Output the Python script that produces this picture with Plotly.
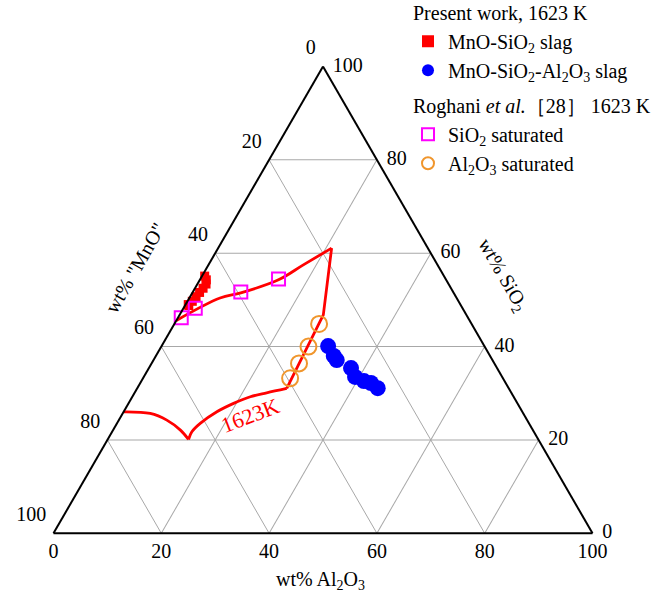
import plotly.graph_objects as go

# ---------------- data (wt%) ----------------
# Present work, MnO-SiO2 slag
red_sio2 = [55.1, 54.3, 53.4, 52.5, 51.6, 50.7, 49.7, 48.8, 49.0]
red_al2o3 = [0.5, 1.2, 1.6, 1.5, 1.3, 1.1, 0.9, 0.7, 0.5]
# Present work, MnO-SiO2-Al2O3 slag
blue_sio2 = [40.1, 38.0, 37.1, 35.4, 33.5, 32.6, 32.2, 31.1]
blue_al2o3 = [30.9, 33.0, 34.0, 37.5, 39.2, 41.3, 42.8, 44.6]
# Roghani et al., SiO2 saturated
mag_sio2 = [46.2, 48.2, 51.7, 54.5]
mag_al2o3 = [0.6, 2.2, 8.9, 14.5]
# Roghani et al., Al2O3 saturated
org_sio2 = [44.85, 40.0, 36.4, 33.2]
org_al2o3 = [26.85, 27.3, 27.35, 27.3]
# 1623 K liquidus pieces
liq_upper_sio2 = [45.6, 50.4, 51.5, 54.3, 57.5, 61.1]
liq_upper_al2o3 = [0.0, 5.7, 9.0, 14.6, 17.6, 21.05]
liq_mid_sio2 = [61.1, 46.8, 31.05]
liq_mid_al2o3 = [21.05, 26.66, 27.75]
liq_rarc_sio2 = [31.05, 30.1, 29.25, 27.83, 26.03, 23.54, 21.74, 20.1]
liq_rarc_al2o3 = [27.75, 24.5, 21.9, 19.5, 17.3, 15.45, 14.8, 15.0]
liq_larc_sio2 = [20.1, 22.1, 24.25, 25.69, 26.03]
liq_larc_al2o3 = [15.0, 12.5, 8.9, 5.1, 0.0]

TICKS = [0, 20, 40, 60, 80, 100]

# ---------------- geometry ----------------
W, H = 654, 601
X0, X1 = 53.5, 592.5           # triangle base in px
SIDE = X1 - X0
TRI_H = SIDE * 3 ** 0.5 / 2
YB = 533.3                      # base y (px from top)


def mno(s, a):
    return [100.0 - x - y for x, y in zip(s, a)]


SERIF = "Liberation Serif"
FS = 20

fig = go.Figure()

line_style = dict(color="#ff0000", width=2.8)
for s, a, shp in [(liq_upper_sio2, liq_upper_al2o3, "spline"),
                  (liq_mid_sio2, liq_mid_al2o3, "linear"),
                  (liq_rarc_sio2, liq_rarc_al2o3, "spline"),
                  (liq_larc_sio2, liq_larc_al2o3, "spline")]:
    fig.add_trace(go.Scatterternary(a=s, b=mno(s, a), c=a, mode="lines",
                                    line=dict(shape=shp, **line_style),
                                    showlegend=False, hoverinfo="skip",
                                    cliponaxis=False))

fig.add_trace(go.Scatterternary(
    a=red_sio2, b=mno(red_sio2, red_al2o3), c=red_al2o3, mode="markers",
    marker=dict(symbol="square", size=9, color="#ff0000", line=dict(width=0)),
    name="MnO-SiO<sub>2</sub> slag", legendgroup="present",
    legendgrouptitle=dict(text="Present work, 1623 K", font=dict(family=SERIF, size=FS)),
    cliponaxis=False))
fig.add_trace(go.Scatterternary(
    a=blue_sio2, b=mno(blue_sio2, blue_al2o3), c=blue_al2o3, mode="markers",
    marker=dict(symbol="circle", size=16, color="#0000ff", line=dict(width=0)),
    name="MnO-SiO<sub>2</sub>-Al<sub>2</sub>O<sub>3</sub> slag", legendgroup="present",
    cliponaxis=False))
fig.add_trace(go.Scatterternary(
    a=mag_sio2, b=mno(mag_sio2, mag_al2o3), c=mag_al2o3, mode="markers",
    marker=dict(symbol="square-open", size=13, color="#ff00ff", line=dict(width=2)),
    name="SiO<sub>2</sub> saturated", legendgroup="roghani",
    legendgrouptitle=dict(text="Roghani <i>et al.</i>［28］ 1623 K", font=dict(family=SERIF, size=FS)),
    cliponaxis=False))
fig.add_trace(go.Scatterternary(
    a=org_sio2, b=mno(org_sio2, org_al2o3), c=org_al2o3, mode="markers",
    marker=dict(symbol="circle-open", size=16, color="#f0962d", line=dict(width=2)),
    name="Al<sub>2</sub>O<sub>3</sub> saturated", legendgroup="roghani",
    cliponaxis=False))


# ---------------- tick labels: text on edge points, offset by invisible markers ----------------
def text_trace(a, c, labels, pos, pad):
    return go.Scatterternary(a=a, b=mno(a, c), c=c, mode="markers+text", text=labels,
                             textposition=pos, showlegend=False, hoverinfo="skip",
                             cliponaxis=False,
                             marker=dict(size=pad, opacity=0),
                             textfont=dict(family=SERIF, size=FS, color="black"))


lbl = [str(t) for t in TICKS]
# left edge: "MnO" (Al2O3 = 0)
fig.add_trace(text_trace([100 - t for t in TICKS], [0] * 6, lbl, "top left", 10))
# right edge: SiO2 (MnO = 0)
fig.add_trace(text_trace(list(TICKS), [100 - t for t in TICKS], lbl, "middle right", 14))
# bottom edge: Al2O3 (SiO2 = 0)
fig.add_trace(text_trace([0] * 6, list(TICKS), lbl, "bottom center", 14))

axis_common = dict(showticklabels=False, ticks="", tick0=0, dtick=20,
                   showgrid=True, gridcolor="#a8a8a8", gridwidth=1,
                   showline=True, linecolor="black", linewidth=2,
                   title=dict(text=""))

fig.update_layout(
    width=W, height=H,
    margin=dict(l=0, r=0, t=0, b=0, autoexpand=False),
    paper_bgcolor="white",
    font=dict(family=SERIF, size=FS, color="black"),
    ternary=dict(
        sum=100, bgcolor="white",
        domain=dict(x=[X0 / W, X1 / W], y=[1 - YB / H, 1 - (YB - TRI_H) / H]),
        aaxis=axis_common, baxis=axis_common, caxis=axis_common,
    ),
    legend=dict(x=408 / W, y=1.012, xanchor="left", yanchor="top",
                bgcolor="rgba(0,0,0,0)", itemsizing="constant",
                font=dict(family=SERIF, size=FS), tracegroupgap=6),
    annotations=[
        dict(text='wt% "MnO"', x=135 / W, y=1 - 268 / H, xref="paper", yref="paper",
             showarrow=False, textangle=-60, font=dict(family=SERIF, size=FS),
             xanchor="center", yanchor="middle"),
        dict(text="wt% SiO<sub>2</sub>", x=503 / W, y=1 - 275 / H, xref="paper", yref="paper",
             showarrow=False, textangle=60, font=dict(family=SERIF, size=FS),
             xanchor="center", yanchor="middle"),
        dict(text="wt% Al<sub>2</sub>O<sub>3</sub>", x=320 / W, y=1 - 580 / H, xref="paper",
             yref="paper", showarrow=False, font=dict(family=SERIF, size=FS),
             xanchor="center", yanchor="middle"),
        dict(text="1623K", x=250 / W, y=1 - 415 / H, xref="paper", yref="paper",
             showarrow=False, textangle=-21, font=dict(family=SERIF, size=22, color="#ff0000"),
             xanchor="center", yanchor="middle"),
    ],
)

fig.write_html("out.html")
